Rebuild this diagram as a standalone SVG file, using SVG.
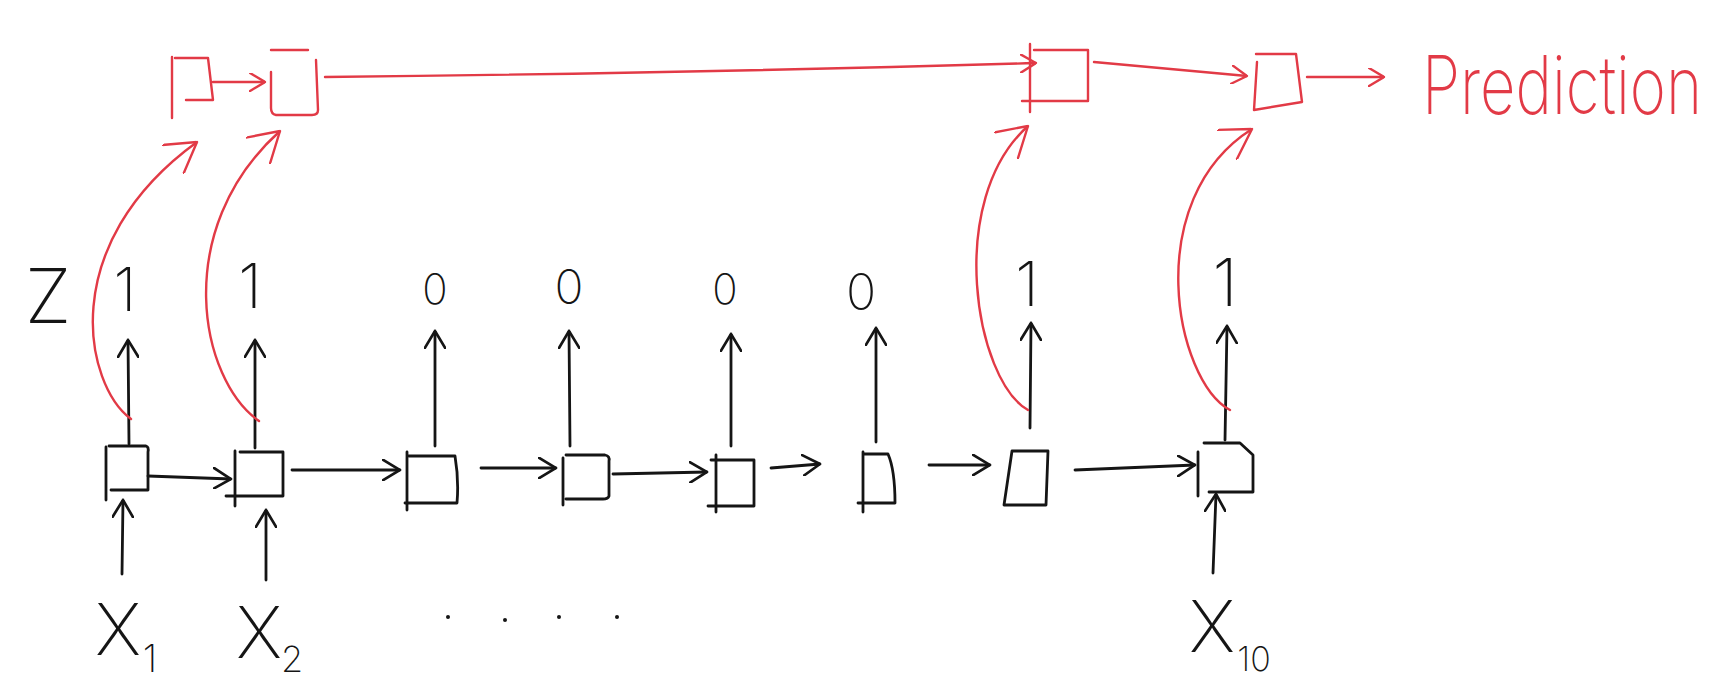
<svg xmlns="http://www.w3.org/2000/svg" width="1715" height="683" viewBox="0 0 1715 683">
<style>
.k{fill:none;stroke:#151515;stroke-width:2.8;stroke-linecap:round;stroke-linejoin:round}
.r{fill:none;stroke:#e23a46;stroke-width:2.4;stroke-linecap:round;stroke-linejoin:round}
.t{font-family:Inter,"DejaVu Sans",sans-serif;font-weight:200;fill:#151515}
.tr{font-family:Inter,"DejaVu Sans",sans-serif;font-weight:200;fill:#e23a46}
.ka{marker-end:url(#ak)}
.ra{marker-end:url(#ar)}
.rl{marker-end:url(#arl)}
</style>
<defs>
<marker id="ak" viewBox="0 0 10 12" refX="10" refY="6" markerWidth="18" markerHeight="22" markerUnits="userSpaceOnUse" orient="auto"><path d="M0,0 L10,6 L0,12" fill="none" stroke="#151515" stroke-width="1.5" stroke-linecap="round" stroke-linejoin="round"/></marker>
<marker id="ar" viewBox="0 0 10 12" refX="10" refY="6" markerWidth="16" markerHeight="19" markerUnits="userSpaceOnUse" orient="auto"><path d="M0,0 L10,6 L0,12" fill="none" stroke="#e23a46" stroke-width="1.5" stroke-linecap="round" stroke-linejoin="round"/></marker>
<marker id="arl" viewBox="0 0 10 12" refX="10" refY="6" markerWidth="30" markerHeight="36" markerUnits="userSpaceOnUse" orient="auto"><path d="M0,0 L10,6 L0,12" fill="none" stroke="#e23a46" stroke-width="0.8" stroke-linecap="round" stroke-linejoin="round"/></marker>
</defs>
<rect width="1715" height="683" fill="#fff"/>

<g id="connectors">
  <path class="k ka" d="M148,476 L231,479"/>
  <path class="k ka" d="M292,470 L400,470"/>
  <path class="k ka" d="M481,468 L556,468"/>
  <path class="k ka" d="M613,474 L707,472"/>
  <path class="k ka" d="M771,468 L820,464"/>
  <path class="k ka" d="M929,465 L990,465"/>
  <path class="k ka" d="M1075,470 L1195,465"/>
  <path class="k ka" d="M129,444 L128,340"/>
  <path class="k ka" d="M255,448 L255,340"/>
  <path class="k ka" d="M435,446 L435,331"/>
  <path class="k ka" d="M570,446 L569,331"/>
  <path class="k ka" d="M731,446 L731,334"/>
  <path class="k ka" d="M876,442 L876,328"/>
  <path class="k ka" d="M1030,428 L1031,323"/>
  <path class="k ka" d="M1225,440 L1227,326"/>
  <path class="k ka" d="M122,574 L123,500"/>
  <path class="k ka" d="M266,580 L266,510"/>
  <path class="k ka" d="M1213,573 L1216,494"/>
  <path class="r rl" d="M131,419 C85,385 55,245 197,142"/>
  <path class="r rl" d="M259,421 C200,380 170,230 280,131"/>
  <path class="r rl" d="M1028,410 C975,380 945,200 1028,126"/>
  <path class="r rl" d="M1230,410 C1175,380 1140,200 1252,129"/>
  <path class="r ra" d="M213,82 L265,82"/>
  <path class="r ra" d="M325,77 Q700,73 1036,63"/>
  <path class="r ra" d="M1094,62 L1247,76"/>
  <path class="r ra" d="M1307,77 L1384,77"/>
</g>

<g id="b1"><path class="k" d="M106,447 V500 M109,446 H146 Q149,447 148,452 V490 H111"/></g>
<g id="b2"><path class="k" d="M240,452 H283 V496 H226 M235,451 V506"/></g>
<g id="b3"><path class="k" d="M407,452 V510 M409,456 H455 Q459,480 457,503 H405"/></g>
<g id="b4"><path class="k" d="M563,458 V505 M566,455 H605 Q610,456 609,461 V496 Q608,499 603,499 H566"/></g>
<g id="b5"><path class="k" d="M716,455 V512 M711,460 H754 V506 H708"/></g>
<g id="b6"><path class="k" d="M863,452 V512 M863,454 H888 Q895,470 895,503 H858"/></g>
<g id="b7"><path class="k" d="M1012,451 H1048 L1046,505 H1004 Z"/></g>
<g id="b8"><path class="k" d="M1198,452 V496 M1204,443 H1240 L1253,455 V492 H1209"/></g>

<g id="z-label"><text class="t" x="48" y="323" font-size="76" text-anchor="middle">Z</text></g>
<g id="z1"><text class="t" x="125" y="311" font-size="60" text-anchor="middle">1</text></g>
<g id="z2"><text class="t" x="250" y="308" font-size="62" text-anchor="middle">1</text></g>
<g id="z3"><text class="t" x="435" y="304" font-size="42" text-anchor="middle">0</text></g>
<g id="z4"><text class="t" x="569" y="304" font-size="48" text-anchor="middle">0</text></g>
<g id="z5"><text class="t" x="725" y="304" font-size="42" text-anchor="middle">0</text></g>
<g id="z6"><text class="t" x="861" y="310" font-size="50" text-anchor="middle">0</text></g>
<g id="z7"><text class="t" x="1027" y="306" font-size="62" text-anchor="middle">1</text></g>
<g id="z8"><text class="t" x="1225" y="306" font-size="66" text-anchor="middle">1</text></g>

<g id="x1"><text class="t" x="118" y="655" font-size="72" text-anchor="middle">X</text><text class="t" x="150" y="672" font-size="38" text-anchor="middle">1</text></g>
<g id="x2"><text class="t" x="259" y="658" font-size="72" text-anchor="middle">X</text><text class="t" x="292" y="672" font-size="36" text-anchor="middle">2</text></g>
<g id="x10"><text class="t" x="1212" y="652" font-size="72" text-anchor="middle">X</text><text class="t" x="1254" y="671" font-size="34" text-anchor="middle">10</text></g>

<g id="ellipsis">
  <circle cx="448" cy="617" r="2" fill="#151515"/>
  <circle cx="505" cy="620" r="2" fill="#151515"/>
  <circle cx="559" cy="617" r="2" fill="#151515"/>
  <circle cx="617" cy="617" r="2" fill="#151515"/>
</g>

<g id="r1"><path class="r" d="M172,57 V118 M175,58 H208 L213,100 H186"/></g>
<g id="r2"><path class="r" d="M271,50 H308 M316,60 L318,110 Q318,115 312,115 H276 Q271,114 271,108 V72"/></g>
<g id="r3"><path class="r" d="M1030,44 V112 M1034,50 H1088 V101 H1022"/></g>
<g id="r4"><path class="r" d="M1256,54 H1296 L1302,102 L1254,110 L1257,62"/></g>
<g id="prediction"><text class="tr" transform="translate(1422,114) scale(1,1.4)" x="0" y="0" font-size="58" textLength="280" lengthAdjust="spacingAndGlyphs">Prediction</text></g>
</svg>
